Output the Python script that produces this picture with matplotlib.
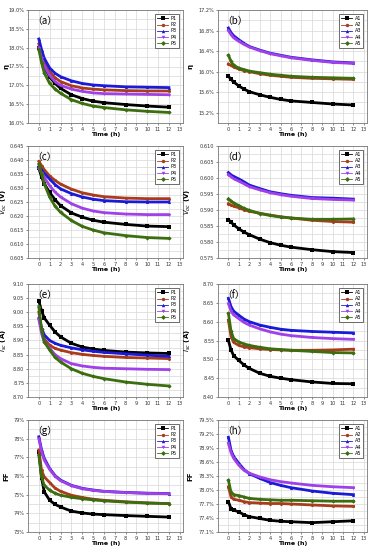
import matplotlib
matplotlib.use("Agg")
import matplotlib.pyplot as plt
from matplotlib.ticker import FuncFormatter, MultipleLocator

# sampling times (h)
T = [0, 0.25, 0.5, 1, 1.5, 2, 3, 4, 5, 6, 8, 10, 12]

# (a) efficiency, P series (%)
eta_P1 = [18.00, 17.75, 17.50, 17.22, 17.05, 16.92, 16.75, 16.65, 16.58, 16.54, 16.49, 16.45, 16.42]
eta_P2 = [18.10, 17.80, 17.60, 17.36, 17.20, 17.10, 16.99, 16.93, 16.90, 16.88, 16.86, 16.85, 16.85]
eta_P3 = [18.23, 17.95, 17.72, 17.46, 17.32, 17.23, 17.12, 17.05, 17.01, 16.99, 16.96, 16.95, 16.94]
eta_P4 = [18.00, 17.72, 17.52, 17.26, 17.10, 17.00, 16.90, 16.84, 16.80, 16.78, 16.77, 16.76, 16.75]
eta_P5 = [17.95, 17.60, 17.33, 17.05, 16.90, 16.79, 16.62, 16.52, 16.45, 16.41, 16.35, 16.31, 16.28]

# (b) efficiency, A series (%)
eta_A1 = [15.91, 15.85, 15.80, 15.72, 15.66, 15.61, 15.55, 15.50, 15.46, 15.43, 15.40, 15.37, 15.35]
eta_A2 = [16.15, 16.12, 16.09, 16.05, 16.02, 16.00, 15.96, 15.93, 15.91, 15.89, 15.87, 15.86, 15.85]
eta_A3 = [16.85, 16.76, 16.70, 16.62, 16.55, 16.49, 16.42, 16.36, 16.32, 16.28, 16.23, 16.19, 16.17]
eta_A4 = [16.80, 16.72, 16.66, 16.59, 16.53, 16.48, 16.41, 16.35, 16.31, 16.27, 16.22, 16.18, 16.16]
eta_A5 = [16.32, 16.20, 16.12, 16.07, 16.04, 16.01, 15.98, 15.95, 15.93, 15.91, 15.89, 15.88, 15.87]

# (c) Voc, P series (V)
voc_P1 = [0.6370, 0.6340, 0.6315, 0.6284, 0.6258, 0.6237, 0.6211, 0.6196, 0.6185, 0.6178, 0.6170, 0.6164, 0.6162]
voc_P2 = [0.6395, 0.6380, 0.6365, 0.6343, 0.6327, 0.6314, 0.6296, 0.6283, 0.6275, 0.6269, 0.6264, 0.6262, 0.6262]
voc_P3 = [0.6375, 0.6365, 0.6352, 0.6332, 0.6312, 0.6297, 0.6280, 0.6268, 0.6260, 0.6255, 0.6251, 0.6250, 0.6250]
voc_P4 = [0.6370, 0.6355, 0.6338, 0.6308, 0.6285, 0.6268, 0.6244, 0.6228, 0.6218, 0.6212, 0.6207, 0.6205, 0.6205]
voc_P5 = [0.6385, 0.6350, 0.6315, 0.6267, 0.6235, 0.6213, 0.6184, 0.6163, 0.6150, 0.6140, 0.6130, 0.6123, 0.6120]

# (d) Voc, A series (V)
voc_A1 = [0.5870, 0.5862, 0.5854, 0.5841, 0.5831, 0.5823, 0.5809, 0.5798, 0.5790, 0.5784, 0.5776, 0.5770, 0.5767]
voc_A2 = [0.5920, 0.5915, 0.5912, 0.5907, 0.5901, 0.5896, 0.5890, 0.5884, 0.5879, 0.5875, 0.5868, 0.5864, 0.5862]
voc_A3 = [0.6017, 0.6010, 0.6005, 0.5997, 0.5988, 0.5978, 0.5967, 0.5957, 0.5951, 0.5946, 0.5939, 0.5937, 0.5934]
voc_A4 = [0.6010, 0.6004, 0.5998, 0.5990, 0.5982, 0.5973, 0.5963, 0.5954, 0.5948, 0.5943, 0.5936, 0.5933, 0.5931]
voc_A5 = [0.5935, 0.5928, 0.5922, 0.5914, 0.5905, 0.5899, 0.5889, 0.5883, 0.5878, 0.5875, 0.5871, 0.5871, 0.5872]

# (e) Isc, P series (A)
isc_P1 = [9.040, 9.005, 8.980, 8.954, 8.930, 8.913, 8.890, 8.877, 8.870, 8.865, 8.859, 8.856, 8.854]
isc_P2 = [9.000, 8.940, 8.905, 8.883, 8.872, 8.866, 8.857, 8.851, 8.847, 8.844, 8.840, 8.838, 8.836]
isc_P3 = [8.978, 8.945, 8.920, 8.900, 8.890, 8.883, 8.874, 8.867, 8.862, 8.858, 8.853, 8.848, 8.844]
isc_P4 = [8.975, 8.925, 8.895, 8.872, 8.850, 8.836, 8.818, 8.810, 8.805, 8.802, 8.800, 8.798, 8.797]
isc_P5 = [9.020, 8.940, 8.895, 8.866, 8.840, 8.824, 8.800, 8.784, 8.773, 8.765, 8.753, 8.745, 8.739]

# (f) Isc, A series (A)
isc_A1 = [8.550, 8.525, 8.510, 8.497, 8.485, 8.476, 8.463, 8.455, 8.450, 8.446, 8.440, 8.436, 8.435]
isc_A2 = [8.604, 8.560, 8.545, 8.537, 8.533, 8.531, 8.528, 8.526, 8.525, 8.524, 8.524, 8.525, 8.527]
isc_A3 = [8.662, 8.640, 8.628, 8.617, 8.607, 8.600, 8.591, 8.585, 8.580, 8.577, 8.574, 8.572, 8.570]
isc_A4 = [8.648, 8.628, 8.618, 8.608, 8.598, 8.591, 8.581, 8.573, 8.567, 8.563, 8.558, 8.555, 8.553]
isc_A5 = [8.622, 8.575, 8.555, 8.546, 8.541, 8.537, 8.532, 8.528, 8.526, 8.524, 8.521, 8.518, 8.517]

# (g) FF, P series (%)
ff_P1 = [77.30, 75.90, 75.15, 74.70, 74.48, 74.34, 74.12, 74.02, 73.96, 73.93, 73.88, 73.84, 73.80]
ff_P2 = [77.40, 76.30, 75.95, 75.65, 75.35, 75.18, 74.97, 74.85, 74.76, 74.70, 74.62, 74.56, 74.52]
ff_P3 = [78.10, 77.40, 76.95, 76.40, 76.02, 75.78, 75.50, 75.34, 75.25, 75.18, 75.12, 75.08, 75.06]
ff_P4 = [78.00, 77.30, 76.85, 76.35, 75.98, 75.75, 75.48, 75.32, 75.23, 75.17, 75.11, 75.07, 75.05]
ff_P5 = [77.10, 75.95, 75.50, 75.24, 75.07, 74.97, 74.86, 74.78, 74.72, 74.67, 74.60, 74.55, 74.52]

# (h) FF, A series (%)
ff_A1 = [77.75, 77.60, 77.57, 77.53, 77.47, 77.43, 77.39, 77.35, 77.33, 77.32, 77.30, 77.32, 77.34]
ff_A2 = [78.07, 77.85, 77.80, 77.78, 77.75, 77.73, 77.72, 77.71, 77.71, 77.70, 77.68, 77.66, 77.65]
ff_A3 = [79.13, 78.85, 78.72, 78.57, 78.44, 78.35, 78.25, 78.16, 78.10, 78.05, 77.98, 77.93, 77.90]
ff_A4 = [79.00, 78.80, 78.68, 78.53, 78.42, 78.36, 78.28, 78.22, 78.18, 78.15, 78.10, 78.07, 78.05]
ff_A5 = [78.21, 77.95, 77.90, 77.88, 77.85, 77.82, 77.80, 77.79, 77.78, 77.78, 77.77, 77.76, 77.76]

X_TICKS = list(range(0, 14))

P_NAMES = ["P1", "P2", "P3", "P4", "P5"]
A_NAMES = ["A1", "A2", "A3", "A4", "A5"]

COLORS = ["#000000", "#a83c1c", "#1a1ad8", "#a040e8", "#3c6e10"]
MARKERS = ["s", "o", "^", "v", "D"]

CJK = ["Noto Sans CJK SC", "DejaVu Sans"]

# panel: label, series, names, ylabel, ylim, major step, tick format
panels = [
    ("a", [eta_P1, eta_P2, eta_P3, eta_P4, eta_P5], P_NAMES, "η", (16.0, 19.0), 0.5, "{:.1f}%"),
    ("b", [eta_A1, eta_A2, eta_A3, eta_A4, eta_A5], A_NAMES, "η", (15.0, 17.2), 0.4, "{:.1f}%"),
    ("c", [voc_P1, voc_P2, voc_P3, voc_P4, voc_P5], P_NAMES, "$V_{oc}$ (V)", (0.605, 0.645), 0.005, "{:.3f}"),
    ("d", [voc_A1, voc_A2, voc_A3, voc_A4, voc_A5], A_NAMES, "$V_{oc}$ (V)", (0.575, 0.610), 0.005, "{:.3f}"),
    ("e", [isc_P1, isc_P2, isc_P3, isc_P4, isc_P5], P_NAMES, "$I_{sc}$ (A)", (8.70, 9.10), 0.05, "{:.2f}"),
    ("f", [isc_A1, isc_A2, isc_A3, isc_A4, isc_A5], A_NAMES, "$I_{sc}$ (A)", (8.40, 8.70), 0.05, "{:.2f}"),
    ("g", [ff_P1, ff_P2, ff_P3, ff_P4, ff_P5], P_NAMES, "FF", (73, 79), 1, "{:.0f}%"),
    ("h", [ff_A1, ff_A2, ff_A3, ff_A4, ff_A5], A_NAMES, "FF", (77.1, 79.5), 0.3, "{:.1f}%"),
]

W, H = 371, 550
lefts = [28, 218]
widths = [155, 149]
tops = [10, 146, 284, 420]
bottoms = [123, 258, 397, 532]
ylabel_x = [9, 193]  # pixel column of the y-axis titles

fig = plt.figure(figsize=(W / 100, H / 100), dpi=100)

for i, (lab, series, names, ylab, ylim, step, fmt) in enumerate(panels):
    r, c = divmod(i, 2)
    ax = fig.add_axes([lefts[c] / W, 1 - bottoms[r] / H, widths[c] / W, (bottoms[r] - tops[r]) / H])
    for ys, name, col, mk in zip(series, names, COLORS, MARKERS):
        ax.plot(T, ys, color=col, lw=2.0, marker=mk, ms=2.2, mew=0, label=name)
    ax.set_xlim(-1, 13.3)
    ax.set_ylim(*ylim)
    ax.set_xticks(X_TICKS)
    ax.yaxis.set_major_locator(MultipleLocator(step))
    ax.yaxis.set_minor_locator(MultipleLocator(step / 2))
    ax.yaxis.set_major_formatter(FuncFormatter(lambda v, p, f=fmt: f.format(v)))
    ax.grid(True, which="both", color="#d8d8d8", lw=0.5)
    ax.set_axisbelow(True)
    ax.tick_params(labelsize=3.6, length=1.5, width=0.4, pad=1.2, colors="#333333")
    ax.tick_params(which="minor", length=0)
    for s in ax.spines.values():
        s.set_color("#777777")
        s.set_linewidth(0.6)
    ax.set_xlabel("Time (h)", fontsize=4.5, fontweight="bold", labelpad=0.5)
    ax.set_ylabel(ylab, fontsize=5, fontweight="bold")
    ax.yaxis.set_label_coords((ylabel_x[c] - lefts[c]) / widths[c], 0.5)
    ax.text(0.03, 0.95, f"（{lab}）", transform=ax.transAxes, fontsize=7,
            family=CJK, va="top", ha="left")
    leg = ax.legend(loc="upper right", fontsize=3.6, handlelength=2.2, handletextpad=0.5,
                    borderpad=0.4, labelspacing=0.25, fancybox=False, borderaxespad=0.8,
                    framealpha=1)
    leg.get_frame().set_edgecolor("#333333")
    leg.get_frame().set_linewidth(0.5)
    for ln in leg.get_lines():
        ln.set_linewidth(0.6)
        ln.set_markersize(2.5)

fig.savefig("out.png", dpi=100)
